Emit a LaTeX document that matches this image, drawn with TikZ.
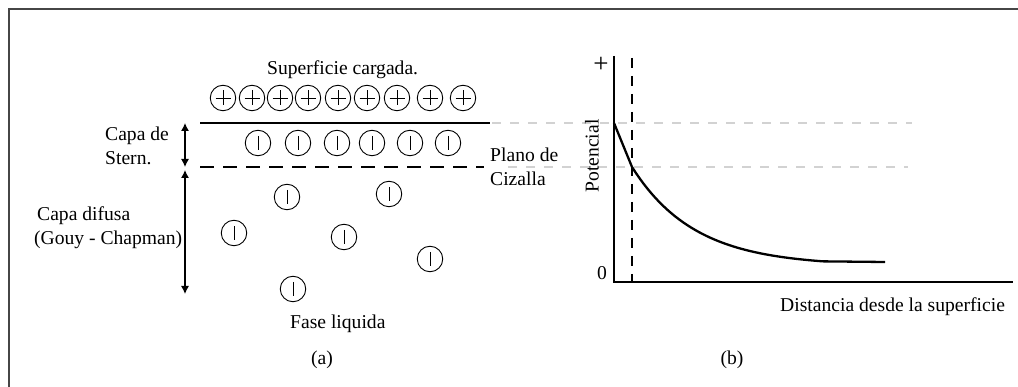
\documentclass[tikz,border=0pt]{standalone}
\usepackage{fontspec}
\setmainfont{Liberation Serif}
\usetikzlibrary{arrows.meta}
\begin{document}
\begin{tikzpicture}[x=1pt,y=-1pt,
  lbl/.style={inner sep=0pt, font=\fontsize{19.6}{24.5}\selectfont},
  ion/.style={circle, draw, line width=0.9pt, minimum size=25.5pt, inner sep=0pt},
  pion/.style={ion, path picture={\draw[line width=0.9pt] (path picture bounding box.center) +(-7.5,0) -- +(7.5,0) +(0,-7.5) -- +(0,7.5);}},
  nion/.style={ion, path picture={\draw[line width=0.9pt] (path picture bounding box.center) +(0,-7) -- +(0,7);}},
  dim/.style={line width=1.1pt, {Latex[length=8pt,width=8pt]}-{Latex[length=8pt,width=8pt]}},
  guide/.style={gray!35, line width=1.1pt, dash pattern=on 9pt off 9pt},
  shear/.style={line width=1.3pt, dash pattern=on 14pt off 9pt},
  axis/.style={line width=1.3pt}
]
\useasboundingbox (0,0) rectangle (1018,387);
\fill[white] (0,0) rectangle (1018,387);
% frame
\draw[gray!55!black, line width=2pt] (1018,9) -- (9,9) -- (9,387);

% ---------- panel (a) ----------
\node[lbl, anchor=base west] (sup) at (267,75) {Superficie cargada.};
\foreach \i/\x in {1/223,2/252,3/280,4/308,5/338,6/367,7/397,8/430,9/463}
  \node[pion] (p\i) at (\x,98) {};
\coordinate (s1) at (200,123);
\coordinate (s2) at (490,123);
\draw[line width=1.3pt] (s1) -- (s2);
\foreach \i/\x in {1/258,2/298,3/337,4/372,5/410,6/448}
  \node[nion] (n\i) at (\x,143) {};
\coordinate (h1) at (200,167);
\coordinate (h2) at (484,167);
\draw[shear] (h1) -- (h2);
\foreach \i/\x/\y in {1/287/197,2/389/194,3/234/233,4/344/237,5/430/259,6/293/289}
  \node[nion] (d\i) at (\x,\y) {};

\coordinate (a1t) at (185,123);
\coordinate (a1b) at (185,167);
\coordinate (a2t) at (185,170);
\coordinate (a2b) at (185,294);
\draw[dim] (a1t) -- (a1b);
\draw[dim] (a2t) -- (a2b);

\node[lbl, anchor=base west, align=left] (stern) at (105,165) {Capa de\\Stern.};
\node[lbl, anchor=base west, align=left] (difusa) at (34,245) {\hspace*{3pt}Capa difusa\\(Gouy - Chapman)};
\node[lbl, anchor=base west, align=left] (plano) at (490,186) {Plano de\\Cizalla};
\node[lbl, anchor=base west] (fase) at (290,329) {Fase liquida};
\node[lbl, anchor=base] (la) at (322,365) {(a)};

% ---------- panel (b) ----------
\coordinate (g1a) at (492,123);
\coordinate (g1b) at (912,123);
\coordinate (g2a) at (508,167);
\coordinate (g2b) at (908,167);
\draw[guide] (g1a) -- (g1b);
\draw[guide] (g2a) -- (g2b);

\coordinate (O) at (614,282);
\coordinate (ytop) at (614,56);
\coordinate (xend) at (1013,282);
\draw[axis] (ytop) -- (O) -- (xend);
\coordinate (vs1) at (632,58);
\coordinate (vs2) at (632,282);
\draw[line width=1.1pt, dash pattern=on 10pt off 8pt] (vs1) -- (vs2);

\node[inner sep=0pt, font=\fontsize{27}{30}\selectfont] (plus) at (601,65) {+};
\node[lbl] (zero) at (602,273) {0};
\node[lbl, rotate=90] (pot) at (592,156) {Potencial};

\coordinate (c0) at (614,123);
\coordinate (c1) at (632,167);
\coordinate (c2) at (885,262);
\draw[line width=2.3pt, line join=round]
  (c0) -- (c1) -- plot[domain=632:823, samples=50] (\x, {266-99*exp(-0.016*(\x-632))}) -- (c2);

\node[lbl, anchor=base west] (dist) at (780,312) {Distancia desde la superficie};
\node[lbl, anchor=base] (lb) at (732,365) {(b)};
\end{tikzpicture}
\end{document}
